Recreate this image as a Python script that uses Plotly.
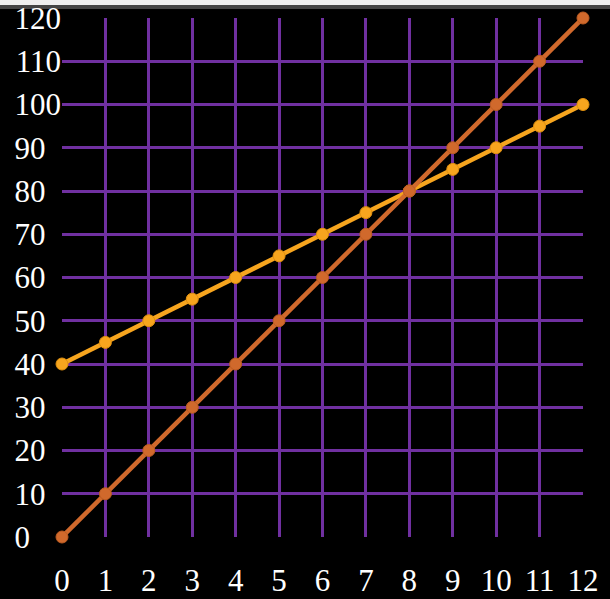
import plotly.graph_objects as go

x_vals = [0, 1, 2, 3, 4, 5, 6, 7, 8, 9, 10, 11, 12]
series_a = [0, 10, 20, 30, 40, 50, 60, 70, 80, 90, 100, 110, 120]
series_b = [40, 45, 50, 55, 60, 65, 70, 75, 80, 85, 90, 95, 100]
y_ticks = [0, 10, 20, 30, 40, 50, 60, 70, 80, 90, 100, 110, 120]
y_tick_text = [str(v) + "\u2002" * (3 - len(str(v))) for v in y_ticks]
x_tick_text = [str(v) for v in x_vals]

fig = go.Figure()
fig.add_trace(go.Scatter(x=x_vals, y=series_b, mode="lines+markers",
                         line=dict(color="#F7A51E", width=4.5),
                         marker=dict(size=12, color="#F7A51E", line=dict(color="#E0900F", width=1)),
                         cliponaxis=False, showlegend=False))
fig.add_trace(go.Scatter(x=x_vals, y=series_a, mode="lines+markers",
                         line=dict(color="#D0692C", width=4.5),
                         marker=dict(size=12, color="#D0692C", line=dict(color="#BC5C22", width=1)),
                         cliponaxis=False, showlegend=False))

plot_h = 537 - 18
fig.add_shape(type="rect", xref="paper", yref="paper", x0=-1, x1=2,
              y0=1 + 9 / plot_h, y1=1 + 13 / plot_h, fillcolor="#444444", line_width=0, layer="below")
fig.add_shape(type="rect", xref="paper", yref="paper", x0=-1, x1=2,
              y0=1 + 13 / plot_h, y1=1 + 20 / plot_h, fillcolor="#EEEEEE", line_width=0, layer="below")

font = dict(family="Liberation Serif", size=31, color="white")
fig.update_layout(
    width=610, height=599,
    margin=dict(l=62, r=27, t=18, b=62, autoexpand=False),
    paper_bgcolor="black", plot_bgcolor="black",
    xaxis=dict(range=[0, 12], tickvals=x_vals, ticktext=x_tick_text, tickfont=font,
               showgrid=True, gridcolor="#7030A0", gridwidth=3, zeroline=False, automargin=False,
               showline=False, ticklabelstandoff=22, fixedrange=True),
    yaxis=dict(range=[0, 120], tickvals=y_ticks, ticktext=y_tick_text, tickfont=font,
               showgrid=True, gridcolor="#7030A0", gridwidth=3, zeroline=False, automargin=False,
               showline=False, ticklabelstandoff=0, fixedrange=True),
)
fig.write_html("out.html", config={"displayModeBar": False},
               post_script="document.body.style.margin='0';document.body.style.background='black';")
